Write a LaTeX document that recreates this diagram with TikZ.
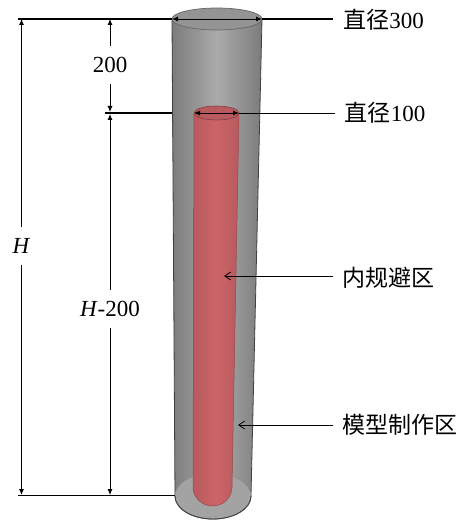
\documentclass[tikz,border=0pt]{standalone}
\usepackage{xcolor}
\usepackage{fontspec}
\setmainfont{Liberation Serif}
\newfontfamily\cjk{Noto Sans CJK SC}
\usetikzlibrary{arrows.meta, positioning, calc}

\definecolor{wallgray}{HTML}{ABABAB}
\definecolor{walldark}{HTML}{7C7C7C}
\definecolor{corered}{HTML}{CC6468}
\definecolor{coredark}{HTML}{B85A5E}

\tikzset{
  lab/.style={font=\fontsize{23}{23}\selectfont, inner sep=1pt},
  thickline/.style={line width=1.3pt},
  thinline/.style={line width=0.9pt},
  dim/.style={thinline, shorten <=10pt, -{Latex[length=6pt,width=5pt]}},
  dimboth/.style={thinline, {Latex[length=6pt,width=5pt]}-{Latex[length=6pt,width=5pt]}},
  leader/.style={line width=0.8pt, -{Straight Barb[length=6pt,width=8pt]}}
}

\begin{document}
\begin{tikzpicture}[x=1pt, y=-1pt]
\useasboundingbox (0,0) rectangle (461,521);

% outer cylinder
\draw[draw=black!75, line width=0.8pt, left color=walldark, right color=walldark, middle color=wallgray]
  (172,19) -- (175,496) arc[start angle=180, end angle=0, x radius=38, y radius=23] -- (262,19) -- cycle;
\draw[draw=black!60, line width=0.7pt, fill=black!42!white] (217,19) ellipse[x radius=45, y radius=11];
\draw[draw=black!45, line width=0.6pt, fill=black!36!white] (213,496) ellipse[x radius=38, y radius=23];
\draw[draw=black!75, line width=0.9pt] (175,496) arc[start angle=180, end angle=0, x radius=38, y radius=23];

% inner core
\draw[draw=coredark!80!black, line width=0.5pt, left color=coredark, right color=coredark, middle color=corered]
  (194,113) -- (193,487) arc[start angle=180, end angle=0, x radius=19.5, y radius=19] -- (239,113) -- cycle;
\draw[draw=coredark!70!black, line width=0.6pt, fill=coredark] (216.5,113) ellipse[x radius=22.5, y radius=7];

% reference lines
\coordinate (topL) at (18,19);
\coordinate (topA) at (172,19);
\coordinate (topB) at (262,19);
\coordinate (midL) at (105,113);
\coordinate (midA) at (172,113);
\coordinate (coreA) at (194,113);
\coordinate (coreB) at (239,113);
\coordinate (botL) at (18,495);
\coordinate (botA) at (175,495);

\node[lab] (d300) at (383.5,20) {{\cjk 直径}300};
\node[lab] (d100) at (385,113) {{\cjk 直径}100};
\node[lab] (avoid) at (388.5,278) {\cjk 内规避区};
\node[lab] (model) at (399.5,425) {\cjk 模型制作区};
\node[lab] (h200) at (110,65) {200};
\node[lab] (hrest) at (110,309) {\textit{H}-200};
\node[lab] (hfull) at (21.5,246) {\textit{H}};

\coordinate (d300end) at (333,19);
\coordinate (d100end) at (335,113);
\coordinate (avoidend) at (333,276);
\coordinate (modelend) at (333,425);
\coordinate (avoidtip) at (224,276);
\coordinate (modeltip) at (238,425);

\draw[thickline] (topL) -- (topA);
\draw[thickline] (topB) -- (d300end);
\draw[thickline] (midL) -- (midA);
\draw[thinline] (coreB) -- (d100end);
\draw[line width=0.9pt] (botL) -- (botA);

\draw[dimboth] (topA) -- (topB);
\draw[dimboth] (coreA) -- (coreB);

% dimensions
\draw[dim] (hfull) -- (21.5,19);
\draw[dim] (hfull) -- (21.5,495);
\draw[dim] (h200) -- (110,19);
\draw[dim] (h200) -- (110,112);
\draw[dim] (hrest) -- (110,114);
\draw[dim] (hrest) -- (110,495);

\draw[leader] (avoidend) -- (avoidtip);
\draw[leader] (modelend) -- (modeltip);
\end{tikzpicture}
\end{document}
